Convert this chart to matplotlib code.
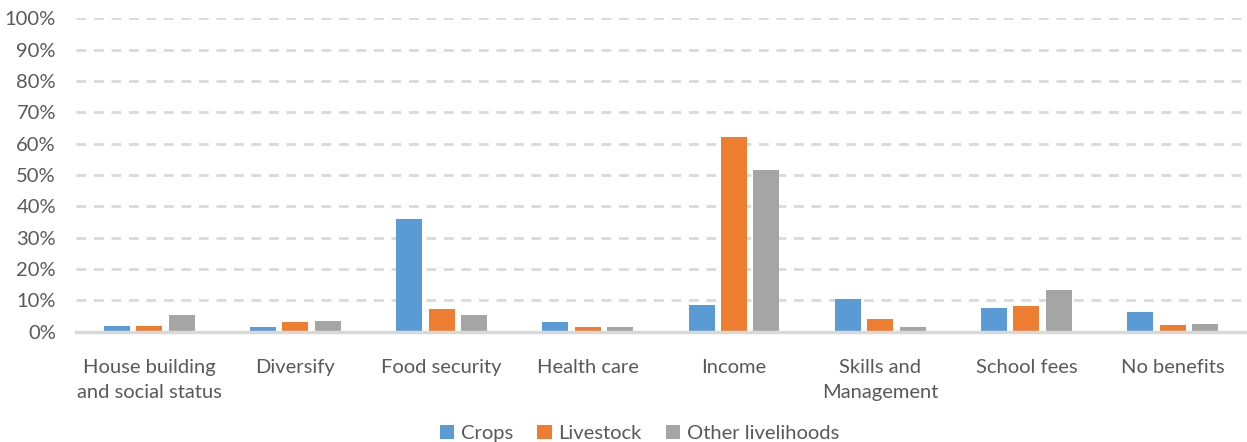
import matplotlib
matplotlib.use("Agg")
import matplotlib.pyplot as plt
import numpy as np
from matplotlib.ticker import FuncFormatter

categories = ["House building\nand social status", "Diversify", "Food security", "Health care",
              "Income", "Skills and\nManagement", "School fees", "No benefits"]
crops = [1.8, 1.5, 36.0, 3.1, 8.5, 10.4, 7.6, 6.3]
livestock = [1.8, 3.1, 7.2, 1.5, 62.1, 4.0, 8.2, 2.1]
other = [5.3, 3.4, 5.3, 1.5, 51.6, 1.5, 13.3, 2.4]
series_names = ["Crops", "Livestock", "Other livelihoods"]
colors = ["#5B9BD5", "#ED7D31", "#A5A5A5"]
yticks = list(range(0, 101, 10))

plt.rcParams['font.family'] = ['Lato', 'DejaVu Sans']
txt = "#595959"
fs = 14.5

fig = plt.figure(figsize=(12.47, 4.42), dpi=100)
ax = fig.add_axes([0.061, 0.2496, 0.938, 0.709])

x = np.arange(len(categories))
w = 0.178
pitch = 0.222
for i, (vals, name, c) in enumerate(zip([crops, livestock, other], series_names, colors)):
    ax.bar(x + (i - 1) * pitch, np.array(vals) / 100, width=w, color=c, label=name, zorder=3)

ax.set_xlim(-0.5, len(categories) - 0.5)
ax.set_ylim(0, 1.0)
ax.set_yticks([t / 100 for t in yticks])
ax.yaxis.set_major_formatter(FuncFormatter(lambda v, p: f"{v*100:.0f}%"))
ax.set_xticks(x)
ax.set_xticklabels(categories, linespacing=1.55)
ax.tick_params(axis='both', length=0, labelsize=fs, labelcolor=txt)
ax.tick_params(axis='x', pad=20)
ax.tick_params(axis='y', pad=14.5)
for lbl in ax.get_yticklabels():
    lbl.set_horizontalalignment('right')

ax.grid(axis='y', color='#D9D9D9', linestyle=(0, (3.5, 2.8)), linewidth=2, zorder=0)
ax.set_axisbelow(True)
for s in ['top', 'right', 'left']:
    ax.spines[s].set_visible(False)
ax.spines['bottom'].set_color('#D9D9D9')
ax.spines['bottom'].set_linewidth(2.5)
ax.spines['bottom'].set_zorder(4)

fig.legend(loc='center', bbox_to_anchor=(0.513, 0.02), ncol=3, frameon=False,
           handlelength=0.7, handleheight=0.7, handletextpad=0.35, columnspacing=1.2,
           fontsize=fs, labelcolor=txt)

fig.savefig("out.png", dpi=100)
